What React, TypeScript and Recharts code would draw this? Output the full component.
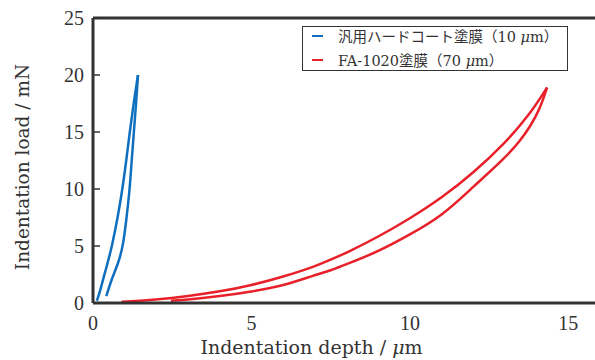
import { LineChart, Line, XAxis, YAxis, ReferenceLine } from "recharts";

// 汎用ハードコート塗膜 (10 µm)
const hardLoadDepth = [0.12, 0.2, 0.34, 0.47, 0.6, 0.78, 0.93, 1.05, 1.16, 1.28, 1.42];
const hardLoadForce = [0.2, 0.8, 2.3, 3.6, 5, 7.5, 10, 12.5, 15, 17.5, 20];
const hardUnloadDepth = [0.42, 0.6, 0.8, 0.95, 1.06, 1.16, 1.22, 1.29, 1.36, 1.42];
const hardUnloadForce = [0.6, 2.2, 3.5, 5, 7.5, 10, 12.5, 15, 17.5, 20];

// FA-1020塗膜 (70 µm)
const faLoadDepth = [0.9, 2, 3, 4, 5, 6, 7, 7.5, 8, 9, 10, 11, 12, 13, 13.8, 14.33];
const faLoadForce = [0.1, 0.3, 0.6, 1.0, 1.55, 2.3, 3.2, 3.8, 4.4, 5.8, 7.4, 9.2, 11.4, 14.0, 16.6, 18.9];
const faUnloadDepth = [2.46, 3, 4, 5, 6, 7, 7.5, 8, 9, 10, 11, 12, 13, 13.5, 13.8, 14.1, 14.33];
const faUnloadForce = [0.2, 0.3, 0.6, 1.0, 1.5, 2.45, 2.85, 3.4, 4.5, 6.0, 7.6, 10.2, 12.7, 14.3, 15.5, 17.0, 18.9];

const xTicks = [0, 5, 10, 15];
const yTicks = [0, 5, 10, 15, 20, 25];

const BLUE = "#0f6fbf";
const RED = "#e8202a";
const INK = "#333";
const SERIF = "'Liberation Serif', 'DejaVu Serif', 'Noto Sans CJK JP', serif";
const WIDE_SERIF = "'DejaVu Serif', 'Noto Sans CJK JP', serif";

const toPoints = (xs: number[], ys: number[]) => xs.map((d, i) => ({ d, p: ys[i] }));

const legendItems = [
  { color: BLUE, label: "汎用ハードコート塗膜", thick: "10" },
  { color: RED, label: "FA-1020塗膜", thick: "70" },
];

function LegendBox() {
  return (
    <div
      style={{
        position: "absolute",
        left: 302,
        top: 26,
        width: 266,
        height: 45,
        border: `1.5px solid ${INK}`,
        background: "#fff",
        padding: "0 8px 0 9px",
        fontFamily: WIDE_SERIF,
        fontSize: 14.5,
        color: INK,
        boxSizing: "border-box",
      }}
    >
      {legendItems.map((it, i) => (
        <div key={it.label} style={{ display: "flex", alignItems: "center", height: 21, marginTop: i === 0 ? -2 : 3 }}>
          <span style={{ display: "inline-block", width: 11, height: 2, background: it.color, marginRight: 15 }} />
          <span>
            {it.label}（{it.thick} <i>μ</i>m）
          </span>
        </div>
      ))}
    </div>
  );
}

function XLabel(props: any) {
  const vb = props.viewBox;
  return (
    <text x={vb.x + vb.width / 2 - 35} y={354} textAnchor="middle" fontFamily={WIDE_SERIF} fontSize={19} fill={INK}>
      Indentation depth / <tspan fontStyle="italic">μ</tspan>m
    </text>
  );
}

function YLabel() {
  return (
    <text
      x={22}
      y={167}
      transform="rotate(-90 22 167)"
      textAnchor="middle"
      dominantBaseline="central"
      fontFamily={WIDE_SERIF}
      fontSize={18.5}
      fill={INK}
    >
      Indentation load / mN
    </text>
  );
}

// y tick: label outside, short tick mark pointing into the plot
function YTick(props: any) {
  const { x, y, payload } = props;
  const axisX = x + 9;
  return (
    <g>
      <text x={x} y={y} dy="0.35em" textAnchor="end" fontFamily={SERIF} fontSize={20} fill={INK}>
        {payload.value}
      </text>
      <line x1={axisX} x2={axisX + 7} y1={y} y2={y} stroke={INK} strokeWidth={1.5} />
    </g>
  );
}

export default function App() {
  const tickStyle = { fontFamily: SERIF, fontSize: 20, fill: INK };
  return (
    <div style={{ position: "absolute", left: 0, top: 0, width: 595, height: 360, overflow: "hidden", background: "#fff" }}>
      <LineChart width={605} height={360} margin={{ top: 18, right: 5, bottom: 27, left: 0 }}>
        <XAxis
          type="number"
          dataKey="d"
          domain={[0, 16]}
          ticks={xTicks}
          height={30}
          tickLine={false}
          tickSize={0}
          tickMargin={13}
          tick={tickStyle}
          axisLine={{ stroke: INK, strokeWidth: 3 }}
          allowDuplicatedCategory={false}
          label={<XLabel />}
        />
        <YAxis
          type="number"
          domain={[0, 25]}
          ticks={yTicks}
          width={93}
          tickLine={false}
          tickSize={0}
          tickMargin={9}
          tick={<YTick />}
          axisLine={{ stroke: INK, strokeWidth: 3 }}
          label={<YLabel />}
        />
        <ReferenceLine y={25} stroke={INK} strokeWidth={3} />
        <Line data={toPoints(hardLoadDepth, hardLoadForce)} dataKey="p" type="basis" stroke={BLUE} strokeWidth={2.5} dot={false} isAnimationActive={false} />
        <Line data={toPoints(hardUnloadDepth, hardUnloadForce)} dataKey="p" type="basis" stroke={BLUE} strokeWidth={2.5} dot={false} isAnimationActive={false} />
        <Line data={toPoints(faLoadDepth, faLoadForce)} dataKey="p" type="basis" stroke={RED} strokeWidth={2.5} dot={false} isAnimationActive={false} />
        <Line data={toPoints(faUnloadDepth, faUnloadForce)} dataKey="p" type="basis" stroke={RED} strokeWidth={2.5} dot={false} isAnimationActive={false} />
      </LineChart>
      <LegendBox />
    </div>
  );
}
